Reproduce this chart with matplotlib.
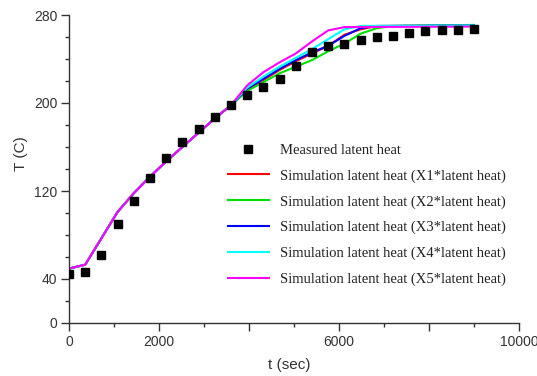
import matplotlib
matplotlib.use("Agg")
import matplotlib.pyplot as plt
from matplotlib.ticker import MultipleLocator, FixedLocator

# Measured data
t_meas = [0, 360, 720, 1080, 1440, 1800, 2160, 2520, 2880, 3240, 3600, 3960, 4320,
          4680, 5040, 5400, 5760, 6120, 6480, 6840, 7200, 7560, 7920, 8280, 8640, 9000]
T_meas = [44.5, 46, 62, 90, 111, 132, 150, 164.5, 176, 187.5, 198, 207, 215,
          222, 234, 246, 252, 254, 257, 260, 261, 264, 265.5, 266, 266.5, 267]

# Simulation series (common early part then divergence)
t_early = [0, 360, 720, 1080, 1440, 1800, 2160, 2520, 2880, 3240, 3600]
T_early = [49.5, 53, 77, 101, 118, 133, 147, 160, 173, 186, 198]

t_x1 = [3960, 4320, 4680, 5040, 5400, 5760, 6120, 6480, 6840, 9000]
T_x1 = [212, 221, 230, 238, 245, 252, 262, 267, 270, 270.5]

t_x2 = [3960, 4320, 4680, 5040, 5400, 5760, 6120, 6480, 6840, 7200, 9000]
T_x2 = [211, 219, 227, 233, 239, 247, 254, 263, 268, 270, 271]

t_x3 = [3960, 4320, 4680, 5040, 5400, 5760, 6120, 6480, 6840, 9000]
T_x3 = [213, 222, 231, 239, 246, 252, 261, 268, 270, 270.5]

t_x4 = [3960, 4320, 4680, 5040, 5400, 5760, 6120, 6480, 9000]
T_x4 = [214, 224, 233, 241, 249, 258, 267, 270, 270.5]

t_x5 = [3960, 4320, 4680, 5040, 5400, 5760, 6120, 9000]
T_x5 = [216, 228, 237, 245, 256, 266, 269, 269.5]

labels = ["Measured latent heat",
          "Simulation latent heat (X1*latent heat)",
          "Simulation latent heat (X2*latent heat)",
          "Simulation latent heat (X3*latent heat)",
          "Simulation latent heat (X4*latent heat)",
          "Simulation latent heat (X5*latent heat)"]

x_ticks = [0, 2000, 4000, 6000, 8000, 10000]
x_ticklabels = ["0", "2000", "", "6000", "", "10000"]
y_ticks = [0, 40, 120, 200, 280]

plt.rcParams['font.family'] = ['Liberation Sans', 'DejaVu Sans']

fig = plt.figure(figsize=(5.37, 3.76), dpi=100)
ax = fig.add_axes([69/537, 1-323/376, 450/537, 308/376])

ax.plot(t_meas, T_meas, linestyle='none', marker='s', color='black',
        markersize=5.5, label=labels[0], zorder=3)

series = [(t_x1, T_x1, '#ff0000'), (t_x2, T_x2, '#00e000'), (t_x3, T_x3, '#0000ff'),
          (t_x4, T_x4, '#00ffff'), (t_x5, T_x5, '#ff00ff')]
for i, (tt, TT, c) in enumerate(series):
    ax.plot(t_early + tt, T_early + TT, color=c, lw=1.5, label=labels[i+1], zorder=2)

ax.set_xlim(0, 10000)
ax.set_ylim(0, 280)
ax.xaxis.set_major_locator(FixedLocator(x_ticks))
ax.set_xticklabels(x_ticklabels)
ax.xaxis.set_minor_locator(MultipleLocator(1000))
ax.yaxis.set_major_locator(FixedLocator(y_ticks))
ax.yaxis.set_minor_locator(MultipleLocator(20))

for s in ['top', 'right']:
    ax.spines[s].set_visible(False)
for s in ['left', 'bottom']:
    ax.spines[s].set_color('#333333')
    ax.spines[s].set_linewidth(1.0)

ax.tick_params(which='major', direction='out', length=5.5, width=1.0, colors='#333333',
               labelsize=10, labelcolor='#333333', pad=3)
ax.tick_params(which='minor', direction='out', length=2.8, width=1.0, colors='#333333')

ax.set_xlabel("t (sec)", fontsize=11, color='#333333')
ax.set_ylabel("T (C)", fontsize=11, color='#333333')
ax.xaxis.set_label_coords(0.49, -0.115)
ax.yaxis.set_label_coords(-0.09, 0.55)

leg = ax.legend(loc='center left', bbox_to_anchor=(0.353, 0.351), frameon=False,
                borderaxespad=0, borderpad=0, handlelength=2.8, handletextpad=0.75,
                labelspacing=0.85, prop={'family': 'Liberation Serif', 'size': 10.5})
for txt in leg.get_texts():
    txt.set_color('#222222')

fig.savefig("out.png", dpi=100)
